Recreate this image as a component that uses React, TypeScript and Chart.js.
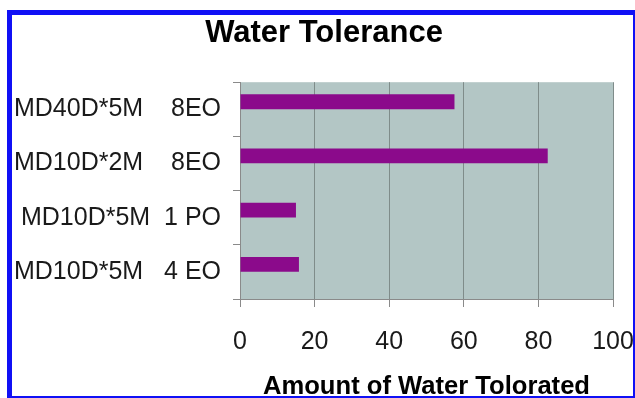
import React, { useEffect, useRef } from "react";
import { Chart, registerables } from "chart.js";

Chart.register(...registerables);

// Samples and measured water tolerance
const categories = ["MD40D*5M    8EO", "MD10D*2M    8EO", "MD10D*5M  1 PO", "MD10D*5M   4 EO"];
const toleranceValues = [57.5, 82.5, 15, 15.8];
// Second series slot is empty; it keeps each bar in the upper part of its category band
const spacerValues = [null, null, null, null];
const xTickValues = [0, 20, 40, 60, 80, 100];

const FONT = "'Liberation Sans', Arial, Helvetica, sans-serif";

const plotBackground = {
  id: "plotBackground",
  afterLayout(chart: any) {
    // let the long category labels run into the left margin instead of being clipped
    const y = chart.scales.y;
    if (y) y.left = 0;
  },
  beforeDraw(chart: any) {
    const { ctx, chartArea } = chart;
    if (!chartArea) return;
    ctx.save();
    ctx.fillStyle = "#b3c6c5";
    ctx.fillRect(chartArea.left, chartArea.top, chartArea.right - chartArea.left, chartArea.bottom - chartArea.top);
    ctx.restore();
  },
};

export default function App() {
  const canvasRef = useRef<HTMLCanvasElement | null>(null);

  useEffect(() => {
    const canvas = canvasRef.current;
    if (!canvas) return;
    const chart = new Chart(canvas, {
      type: "bar",
      data: {
        labels: categories,
        datasets: [
          {
            label: "Amount of Water Tolorated",
            data: toleranceValues,
            backgroundColor: "#8b0a8b",
            borderWidth: 0,
            categoryPercentage: 0.56,
            barPercentage: 0.98,
          },
          {
            label: "",
            data: spacerValues as any,
            backgroundColor: "rgba(0,0,0,0)",
            categoryPercentage: 0.56,
            barPercentage: 0.98,
          },
        ],
      },
      plugins: [plotBackground],
      options: {
        indexAxis: "y",
        responsive: false,
        animation: false,
        devicePixelRatio: 1,
        layout: { padding: { left: 35, right: 22, top: 0, bottom: 0 } },
        plugins: {
          legend: { display: false },
          tooltip: { enabled: false },
          title: {
            display: true,
            text: "Water Tolerance",
            color: "#000",
            font: { family: FONT, size: 31, weight: "bold", lineHeight: 1.2 },
            padding: { top: 15, bottom: 30 },
          },
        },
        scales: {
          x: {
            type: "linear",
            min: 0,
            max: 100,
            afterFit(scale: any) {
              scale.height = 99;
              scale.paddingLeft = 0;
              scale.paddingRight = 0;
            },
            afterBuildTicks(scale: any) {
              scale.ticks = xTickValues.map((v) => ({ value: v }));
            },
            grid: {
              color: "#7f8c8a",
              tickColor: "#8a8a8a",
              tickLength: 8,
              lineWidth: 1,
            },
            border: { display: true, color: "#8a8a8a", width: 1 },
            ticks: {
              color: "#1a1a1a",
              font: { family: FONT, size: 25, lineHeight: 1.2 },
              padding: 20,
              maxRotation: 0,
            },
            title: {
              display: true,
              text: "Amount of Water Tolorated",
              color: "#000",
              font: { family: FONT, size: 25.6, weight: "bold", lineHeight: 1 },
              padding: { top: 0, bottom: -2 },
            },
          },
          y: {
            afterFit(scale: any) {
              scale.width = 205;
            },
            grid: {
              drawOnChartArea: false,
              color: "#8a8a8a",
              tickColor: "#8a8a8a",
              tickLength: 7,
            },
            border: { display: true, color: "#8a8a8a", width: 1 },
            ticks: {
              color: "#1a1a1a",
              font: { family: FONT, size: 25, lineHeight: 1.2 },
              padding: 12,
              autoSkip: false,
            },
          },
        },
      },
    } as any);
    return () => chart.destroy();
  }, []);

  return (
    <div
      style={{
        position: "fixed",
        left: 0,
        top: 0,
        width: 635,
        height: 398,
        overflow: "hidden",
        background: "#ffffff",
      }}
    >
      <canvas ref={canvasRef} width={635} height={398} style={{ display: "block", width: 635, height: 398 }} />
      <div
        style={{
          position: "absolute",
          left: 7,
          top: 10,
          width: 631,
          height: 391,
          boxSizing: "border-box",
          border: "5px solid #1010f5",
          pointerEvents: "none",
        }}
      />
    </div>
  );
}
